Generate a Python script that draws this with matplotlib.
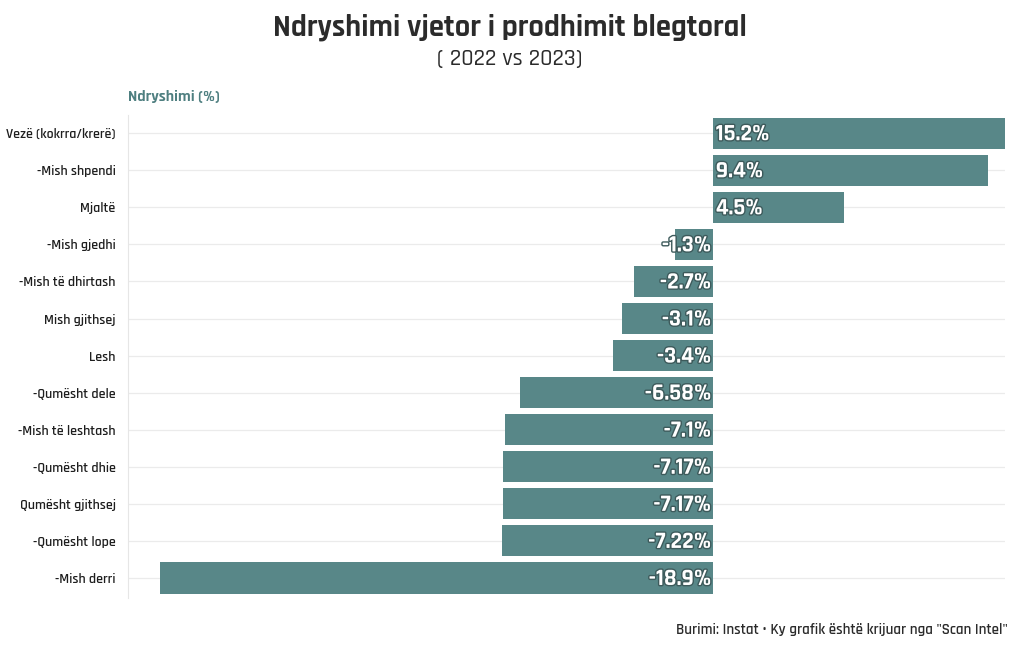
import matplotlib.pyplot as plt
import matplotlib.patheffects as pe
import numpy as np

# data (top to bottom)
categories = ['Vezë (kokrra/krerë)', '-Mish shpendi', 'Mjaltë', '-Mish gjedhi',
              '-Mish të dhirtash', 'Mish gjithsej', 'Lesh', '-Qumësht dele',
              '-Mish të leshtash', '-Qumësht dhie', 'Qumësht gjithsej',
              '-Qumësht lope', '-Mish derri']
changes = [15.2, 9.4, 4.5, -1.3, -2.7, -3.1, -3.4, -6.58, -7.1, -7.17, -7.17, -7.22, -18.9]
labels = ['15.2%', '9.4%', '4.5%', '-1.3%', '-2.7%', '-3.1%', '-3.4%', '-6.58%',
          '-7.1%', '-7.17%', '-7.17%', '-7.22%', '-18.9%']

plt.rcParams['font.family'] = ['Rajdhani', 'DejaVu Sans']

bar_color = '#588788'
fig = plt.figure(figsize=(10.2, 6.5), dpi=100)
ax = fig.add_axes([0.1255, 0.08, 0.86, 0.743])

y = np.arange(len(categories))
ax.barh(y, changes, height=0.84, color=bar_color, zorder=2)

# labels inside the bars, next to zero
stroke = [pe.withStroke(linewidth=2, foreground='#3d5a5b')]
for yi, v, lab in zip(y, changes, labels):
    if v >= 0:
        ax.text(0.1, yi, lab, ha='left', va='center', color='white', fontsize=17,
                fontweight='bold', path_effects=stroke, zorder=3)
    else:
        ax.text(-0.05, yi, lab, ha='right', va='center', color='white', fontsize=17,
                fontweight='bold', path_effects=stroke, zorder=3)

ax.set_xlim(-20, 10)
ax.set_ylim(len(categories) - 0.46, -0.49)
ax.set_yticks(y)
ax.set_yticklabels(categories, fontsize=10, color='#1e1e1e', fontweight='semibold')
ax.tick_params(axis='y', length=0, pad=9)
ax.set_xticks([])
ax.grid(axis='y', color='#ebebeb', linewidth=0.9, zorder=0)
for s in ['top', 'right', 'bottom']:
    ax.spines[s].set_visible(False)
ax.spines['left'].set_color('#e6e6e6')

fig.text(0.1255, 0.851, 'Ndryshimi (%)', fontsize=11.5, fontweight='bold',
         color='#4e7f80', ha='left', va='center')
fig.text(0.5, 0.958, 'Ndryshimi vjetor i prodhimit blegtoral', fontsize=22,
         fontweight='bold', color='#2b2b2b', ha='center', va='center')
fig.text(0.5, 0.911, '( 2022 vs 2023)', fontsize=17, color='#2b2b2b',
         ha='center', va='center', fontweight='medium')
fig.text(0.988, 0.032, 'Burimi: Instat • Ky grafik është krijuar nga "Scan Intel"',
         fontsize=10.8, color='#2b2b2b', ha='right', va='center', fontweight='semibold')

fig.savefig('out.png', dpi=100)
